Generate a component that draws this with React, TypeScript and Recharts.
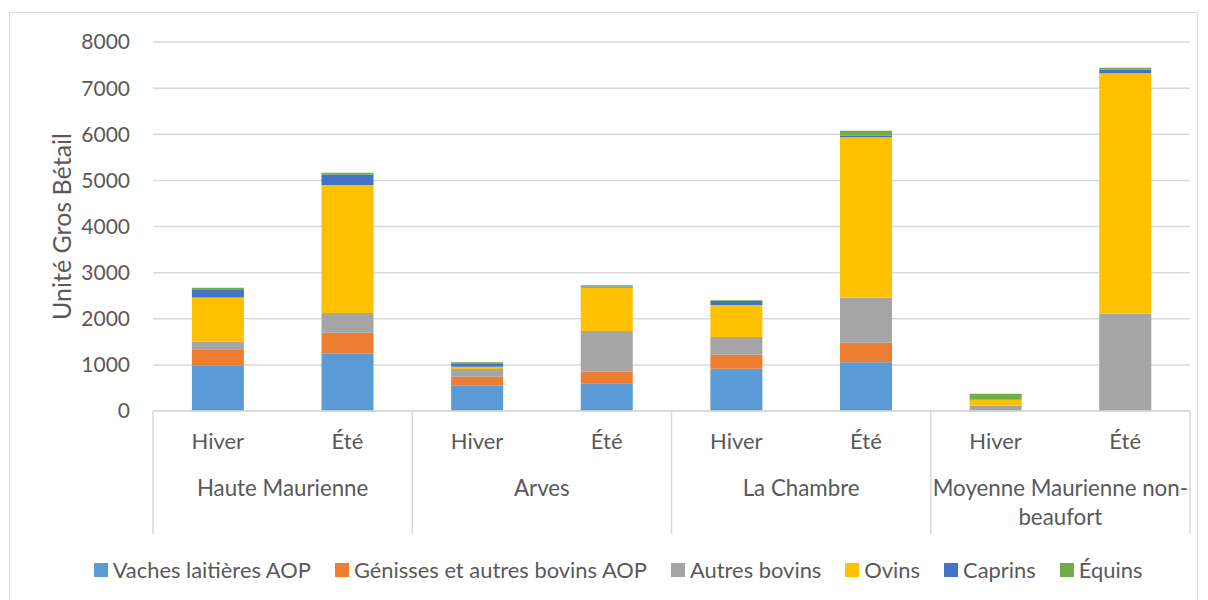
import { BarChart, Bar, XAxis, YAxis, CartesianGrid, Legend } from 'recharts';

const groups = ['Haute Maurienne', 'Arves', 'La Chambre', 'Moyenne Maurienne non-beaufort'];
const seasons = ['Hiver', 'Été'];

// one value per bar: HM hiver, HM été, Arves hiver, Arves été, LC hiver, LC été, MM hiver, MM été
const vaches = [990, 1243, 557, 600, 918, 1056, 0, 0];
const genisses = [350, 455, 187, 253, 303, 426, 0, 0];
const autresBovins = [160, 428, 167, 882, 384, 976, 115, 2110];
const ovins = [960, 2776, 50, 945, 694, 3479, 130, 5215];
const caprins = [180, 224, 74, 20, 87, 35, 0, 80];
const equins = [30, 37, 21, 25, 14, 102, 130, 35];

const yTicks = [0, 1000, 2000, 3000, 4000, 5000, 6000, 7000, 8000];

const series = [
  { key: 'vaches', name: 'Vaches laitières AOP', color: '#5B9BD5', values: vaches },
  { key: 'genisses', name: 'Génisses et autres bovins AOP', color: '#ED7D31', values: genisses },
  { key: 'autres', name: 'Autres bovins', color: '#A5A5A5', values: autresBovins },
  { key: 'ovins', name: 'Ovins', color: '#FFC000', values: ovins },
  { key: 'caprins', name: 'Caprins', color: '#4472C4', values: caprins },
  { key: 'equins', name: 'Équins', color: '#70AD47', values: equins },
];

const rows = groups.flatMap((g, gi) =>
  seasons.map((s, si) => {
    const i = gi * 2 + si;
    const row: any = { id: `${g}-${s}`, season: s, group: g };
    series.forEach((sr) => {
      row[sr.key] = sr.values[i];
    });
    return row;
  })
);

const FONT = 'Lato, "Open Sans", sans-serif';
const TEXT = '#595959';
const LINE = '#d9d9d9';
const PLOT_LEFT = 153;
const PLOT_RIGHT = 1190;
const BAND = (PLOT_RIGHT - PLOT_LEFT) / rows.length;

function CategoryTick(props: any) {
  const { x, y, index } = props;
  const row = rows[index];
  if (!row) return null;
  const isSecond = index % 2 === 1;
  const groupX = x - BAND / 2;
  const words = row.group === 'Moyenne Maurienne non-beaufort' ? ['Moyenne Maurienne non-', 'beaufort'] : [row.group];
  return (
    <g>
      <text x={x} y={y + 38} textAnchor="middle" fill={TEXT} fontSize={22} fontFamily={FONT}>
        {row.season}
      </text>
      {index % 2 === 0 && <line x1={x - BAND / 2} x2={x - BAND / 2} y1={y} y2={y + 123} stroke={LINE} strokeWidth={1.5} />}
      {index === rows.length - 1 && <line x1={x + BAND / 2} x2={x + BAND / 2} y1={y} y2={y + 123} stroke={LINE} strokeWidth={1.5} />}
      {isSecond && (
        <text x={groupX} y={y + 85} textAnchor="middle" fill={TEXT} fontSize={22.3} fontFamily={FONT}>
          {words.map((w, i) => (
            <tspan key={w} x={groupX} dy={i === 0 ? 0 : 29}>
              {w}
            </tspan>
          ))}
        </text>
      )}
    </g>
  );
}

function LegendContent() {
  return (
    <div style={{ display: 'flex', justifyContent: 'center', gap: 24, fontFamily: FONT, fontSize: 21.9, color: TEXT }}>
      {series.map((s) => (
        <div key={s.key} style={{ display: 'flex', alignItems: 'center', gap: 5 }}>
          <span style={{ width: 14, height: 14, background: s.color, display: 'inline-block' }} />
          <span>{s.name}</span>
        </div>
      ))}
    </div>
  );
}

export default function App() {
  return (
    <div style={{ position: 'absolute', left: 0, top: 0, width: 1208, height: 600, background: '#fff' }}>
      <div style={{ position: 'absolute', left: 9, top: 12, width: 1187, height: 600, border: `1.5px solid ${LINE}` }} />
      <BarChart
        width={1208}
        height={600}
        data={rows}
        margin={{ top: 42, right: 1208 - PLOT_RIGHT, left: 20, bottom: 66 }}
        barCategoryGap="30%"
      >
        <CartesianGrid vertical={false} stroke={LINE} strokeWidth={1.5} />
        <XAxis
          dataKey="id"
          height={123}
          interval={0}
          tickLine={false}
          tickSize={0}
          tickMargin={0}
          axisLine={{ stroke: LINE, strokeWidth: 1.5 }}
          tick={<CategoryTick />}
        />
        <YAxis
          width={PLOT_LEFT - 20}
          domain={[0, 8000]}
          ticks={yTicks}
          interval={0}
          axisLine={false}
          tickLine={false}
          tickSize={0}
          tickMargin={23}
          tick={{ fill: TEXT, fontSize: 21, fontFamily: FONT }}
          label={{
            value: 'Unité Gros Bétail',
            angle: -90,
            position: 'insideLeft',
            offset: 42,
            style: { textAnchor: 'middle', fill: TEXT, fontSize: 25, fontFamily: FONT },
          }}
        />
        <Legend
          verticalAlign="middle"
          align="center"
          layout="horizontal"
          wrapperStyle={{ position: 'absolute', top: 556, left: 14, width: 1208 }}
          content={<LegendContent />}
        />
        {series.map((s) => (
          <Bar key={s.key} dataKey={s.key} name={s.name} stackId="a" fill={s.color} isAnimationActive={false} />
        ))}
      </BarChart>
    </div>
  );
}
